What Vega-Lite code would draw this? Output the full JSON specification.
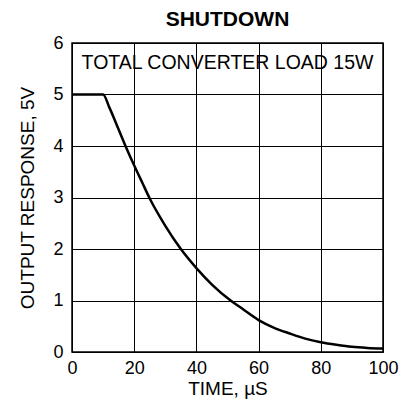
{
  "$schema": "https://vega.github.io/schema/vega-lite/v6.json",
  "autosize": {"type": "none"},
  "padding": {"left": 72, "top": 43, "right": 29, "bottom": 48},
  "width": 311,
  "height": 309,
  "background": "white",
  "config": {
    "font": "Liberation Sans",
    "view": {"stroke": "black", "strokeWidth": 1.5},
    "axis": {
      "domain": false,
      "ticks": false,
      "labelFlush": false,
      "gridColor": "black",
      "gridOpacity": 1,
      "gridWidth": 1,
      "labelFont": "Liberation Sans",
      "labelFontSize": 18,
      "labelColor": "black",
      "titleFont": "Liberation Sans",
      "titleFontSize": 19,
      "titleFontWeight": "normal",
      "titleColor": "black"
    }
  },
  "title": {
    "text": "SHUTDOWN",
    "font": "Liberation Sans",
    "fontSize": 21,
    "fontWeight": "bold",
    "color": "black",
    "anchor": "middle",
    "offset": 4
  },
  "layer": [
    {
      "data": {
        "values": [
          {"t": 0, "v": 5},
          {"t": 10, "v": 5},
          {"t": 12, "v": 4.75},
          {"t": 15, "v": 4.32},
          {"t": 17.2, "v": 4.0},
          {"t": 20, "v": 3.62},
          {"t": 22.5, "v": 3.3},
          {"t": 25, "v": 2.98},
          {"t": 30, "v": 2.45},
          {"t": 35, "v": 2.0},
          {"t": 40, "v": 1.63},
          {"t": 45, "v": 1.31},
          {"t": 51, "v": 1.0},
          {"t": 55, "v": 0.83},
          {"t": 60, "v": 0.62},
          {"t": 65, "v": 0.47},
          {"t": 70, "v": 0.36},
          {"t": 75, "v": 0.26},
          {"t": 80, "v": 0.19},
          {"t": 85, "v": 0.14},
          {"t": 90, "v": 0.1},
          {"t": 95, "v": 0.08},
          {"t": 100, "v": 0.07}
        ]
      },
      "mark": {"type": "line", "color": "black", "strokeWidth": 2.5, "interpolate": "monotone"},
      "encoding": {
        "x": {
          "field": "t", "type": "quantitative",
          "scale": {"domain": [0, 100], "nice": false},
          "axis": {"values": [0, 20, 40, 60, 80, 100], "title": "TIME, µS", "labelPadding": 7, "titlePadding": 2}
        },
        "y": {
          "field": "v", "type": "quantitative",
          "scale": {"domain": [0, 6], "nice": false},
          "axis": {"values": [0, 1, 2, 3, 4, 5, 6], "title": "OUTPUT RESPONSE, 5V", "labelPadding": 9, "titlePadding": 15}
        }
      }
    },
    {
      "data": {"values": [{"t": 50, "v": 5.62, "label": "TOTAL CONVERTER LOAD 15W"}]},
      "mark": {"type": "text", "font": "Liberation Sans", "fontSize": 19.5, "color": "black", "align": "center", "baseline": "middle"},
      "encoding": {
        "x": {"field": "t", "type": "quantitative"},
        "y": {"field": "v", "type": "quantitative"},
        "text": {"field": "label"}
      }
    }
  ]
}
